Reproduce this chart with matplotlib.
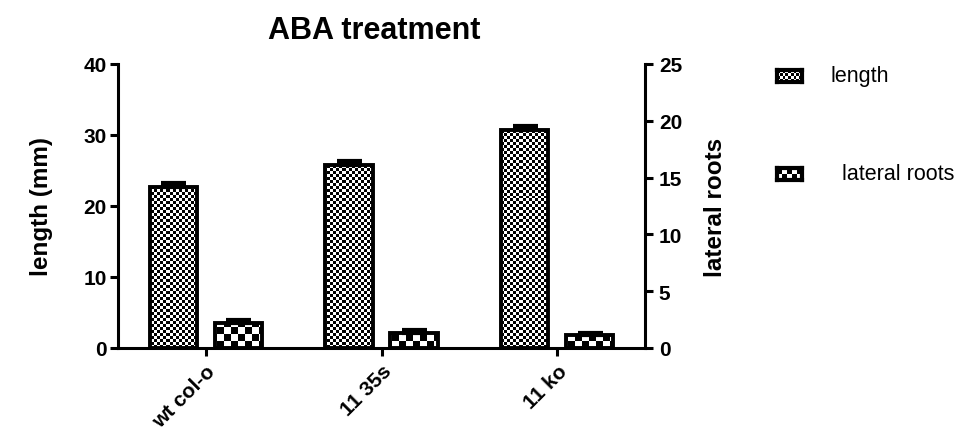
import numpy as np
import matplotlib
matplotlib.use("Agg")
import matplotlib.pyplot as plt

plt.rcParams['font.family'] = ['Liberation Sans', 'DejaVu Sans']

groups = ['wt col-o', '11 35s', '11 ko']
length_mean = [22.7, 25.8, 30.7]
length_err = [0.6, 0.5, 0.6]
lateral_mean = [2.2, 1.35, 1.15]
lateral_err = [0.3, 0.2, 0.15]
series = ['length', 'lateral roots']


def checker(nx, ny):
    """checkerboard array, 0 = black, 1 = white"""
    i, j = np.indices((ny, nx))
    return ((i + j) % 2).astype(float)


def patterned_bars(ax, x, heights, errs, ylim, cells):
    bars = ax.bar(x, heights, width=0.27, facecolor='none', edgecolor='black',
                  linewidth=2.8, zorder=3)
    ax.errorbar(x, heights, yerr=[np.zeros(len(errs)), errs], fmt='none',
                ecolor='black', elinewidth=2.5, capsize=9, capthick=3, zorder=4)
    for b in bars:
        im = ax.imshow(checker(*cells), cmap='gray', vmin=0, vmax=1,
                       extent=(-0.5, 2.5, ylim[0], ylim[1]), aspect='auto',
                       interpolation='nearest', zorder=2)
        im.set_clip_path(b)
    ax.set_xlim(-0.5, 2.5)
    ax.set_ylim(*ylim)
    return bars


fig = plt.figure(figsize=(9.63, 4.39), dpi=100)
ax = fig.add_axes([118 / 963, 1 - 349 / 439, 527 / 963, 284 / 439])
ax2 = ax.twinx()

x = np.arange(len(groups))
patterned_bars(ax, x - 0.185, length_mean, length_err, (0, 40), (176, 95))
patterned_bars(ax2, x + 0.185, lateral_mean, lateral_err, (0, 25), (75, 41))

for a in (ax, ax2):
    for s in a.spines.values():
        s.set_linewidth(2.2)
    a.spines['top'].set_visible(False)
    a.tick_params(width=2.2, length=6, labelsize=15)
    for lab in a.get_yticklabels():
        lab.set_fontweight('bold')
ax.spines['right'].set_visible(False)
ax2.spines['left'].set_visible(False)
ax2.spines['bottom'].set_visible(False)

ax.set_yticks([0, 10, 20, 30, 40])
ax2.set_yticks([0, 5, 10, 15, 20, 25])
ax.set_xticks(x)
ax.set_xticklabels(groups, rotation=45, ha='right', rotation_mode='anchor',
                   fontweight='bold', fontsize=15)
ax.tick_params(axis='y', pad=2)
ax2.tick_params(axis='y', pad=4)

ax.set_ylabel('length (mm)', fontsize=17.5, fontweight='bold', labelpad=22)
ax2.set_ylabel('lateral roots', fontsize=17.5, fontweight='bold', labelpad=16)
fig.text(374 / 963, 1 - 31 / 439, 'ABA treatment', fontsize=22, fontweight='bold',
         ha='center', va='center')

# legend drawn by hand so the swatches can carry the checker pattern
for k, (name, cells, ypix) in enumerate(zip(series, [(9, 4), (5, 2)], [71, 169])):
    lax = fig.add_axes([777 / 963, 1 - (ypix + 12) / 439, 25 / 963, 12 / 439])
    lax.imshow(checker(*cells), cmap='gray', vmin=0, vmax=1, aspect='auto',
               interpolation='nearest')
    lax.set_xticks([])
    lax.set_yticks([])
    for s in lax.spines.values():
        s.set_linewidth(3)
    fig.text(830 / 963 if k == 0 else 842 / 963, 1 - (ypix + 6) / 439, name,
             fontsize=15.5, va='center', ha='left')

fig.savefig('out.png', dpi=100)
